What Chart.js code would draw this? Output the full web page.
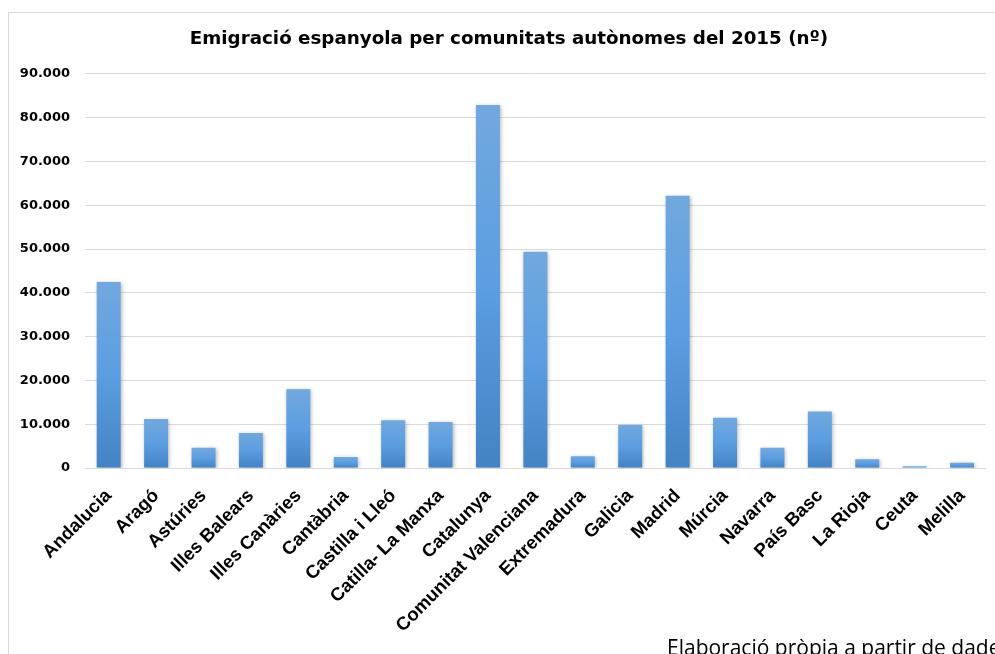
<!DOCTYPE html>
<html>
<head>
<meta charset="utf-8">
<script src="https://cdn.jsdelivr.net/npm/chart.js@4.4.1/dist/chart.umd.min.js"></script>
<style>
  html, body { margin: 0; padding: 0; background: #ffffff; overflow: hidden; }
  #wrap { position: relative; width: 995px; height: 654px; overflow: hidden; }
  #frame { position: absolute; left: 8px; top: 12px; width: 1200px; height: 1000px;
           border-top: 1px solid #d9d9d9; border-left: 1px solid #d9d9d9; box-sizing: border-box; }
  #c { position: absolute; left: 0; top: 0; }
  #source { position: absolute; left: 667px; top: 637px; font-family: "Open Sans", sans-serif;
            font-size: 21px; line-height: 21px; color: #000; white-space: nowrap; }
</style>
</head>
<body>
<div id="wrap">
  <div id="frame"></div>
  <canvas id="c" width="995" height="654"></canvas>
  <div id="source">Elaboració pròpia a partir de dades</div>
</div>
<script>
const categories = ["Andalucia", "Aragó", "Astúries", "Illes Balears", "Illes Canàries", "Cantàbria",
  "Castilla i Lleó", "Catilla- La Manxa", "Catalunya", "Comunitat Valenciana", "Extremadura",
  "Galicia", "Madrid", "Múrcia", "Navarra", "País Basc", "La Rioja", "Ceuta", "Melilla"];
const emigrants = [42500, 11200, 4600, 8000, 18000, 2500, 10900, 10500, 82900, 49400, 2700,
  9800, 62200, 11500, 4600, 12900, 2000, 400, 1200];
const yMin = 0;
const yMax = 90000;
const yStep = 10000;
const titleText = "Emigració espanyola per comunitats autònomes del 2015 (nº)";

function fmtThousands(v) {
  return String(v).replace(/\B(?=(\d{3})+(?!\d))/g, ".");
}

function barGradient(ctx) {
  const chart = ctx.chart;
  if (!chart.chartArea || ctx.raw === undefined) return "#5b9bd5";
  const ys = chart.scales.y;
  const top = ys.getPixelForValue(ctx.raw);
  const bot = ys.getPixelForValue(0);
  if (!(bot > top)) return "#5b9bd5";
  const g = chart.ctx.createLinearGradient(0, top, 0, bot);
  g.addColorStop(0, "#72a8de");
  g.addColorStop(0.5, "#5b9ee1");
  g.addColorStop(1, "#4283c3");
  return g;
}

const shadowPlugin = {
  id: "barShadow",
  beforeDatasetsDraw(chart) {
    const c = chart.ctx;
    c.save();
    c.shadowColor = "rgba(0,0,0,0.28)";
    c.shadowBlur = 4;
    c.shadowOffsetX = 1;
    c.shadowOffsetY = 1;
  },
  afterDatasetsDraw(chart) {
    chart.ctx.restore();
  }
};

// centre the title over the frame rather than the whole canvas
const titleShift = {
  id: "titleShift",
  afterLayout(chart) {
    const t = chart.titleBlock;
    if (t) { t.left = 32; t.width = t.right - t.left; }
  }
};

new Chart(document.getElementById("c"), {
  type: "bar",
  data: {
    labels: categories,
    datasets: [{
      data: emigrants,
      backgroundColor: barGradient,
      borderWidth: 0,
      barPercentage: 0.506,
      categoryPercentage: 1
    }]
  },
  options: {
    responsive: false,
    devicePixelRatio: 1,
    animation: false,
    layout: { padding: { left: 0, right: 9, top: 0, bottom: 0 } },
    plugins: {
      legend: { display: false },
      tooltip: { enabled: false },
      title: {
        display: true,
        text: titleText,
        color: "#000000",
        font: { family: "DejaVu Sans", weight: "bold", size: 18.3, lineHeight: 1.2 },
        padding: { top: 28.5, bottom: 23.5 }
      }
    },
    scales: {
      x: {
        grid: { display: false, drawTicks: false },
        border: { display: true, color: "#d9d9d9", width: 1 },
        ticks: {
          color: "#000000",
          autoSkip: false,
          minRotation: 45,
          maxRotation: 45,
          padding: 17,
          font: { family: "Liberation Sans", weight: "bold", size: 18.5 }
        },
        afterFit(scale) { scale.height = 186; }
      },
      y: {
        min: yMin,
        max: yMax,
        grid: { color: "#d9d9d9", lineWidth: 1, drawTicks: false },
        border: { display: false },
        ticks: {
          stepSize: yStep,
          color: "#000000",
          padding: 15,
          font: { family: "DejaVu Sans", weight: "bold", size: 13 },
          callback: (v) => fmtThousands(v)
        },
        afterFit(scale) { scale.width = 85; }
      }
    }
  },
  plugins: [shadowPlugin, titleShift]
});
</script>
</body>
</html>
